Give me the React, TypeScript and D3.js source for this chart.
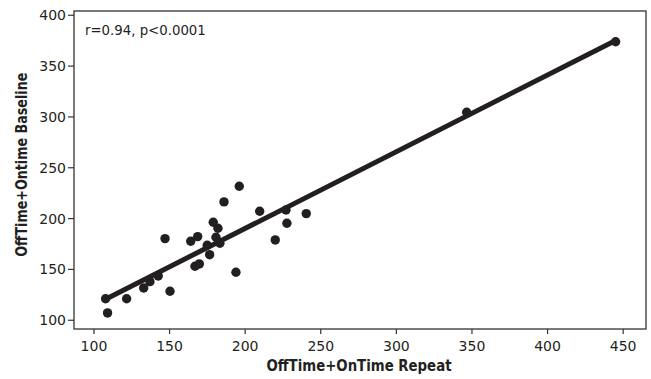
import React from "react";
import * as d3 from "d3";

const repeatValues = [107.7, 109.0, 121.6, 132.9, 137.0, 142.5, 147.0, 150.3, 164.0, 168.6, 166.8, 169.7, 174.9, 176.5, 178.9, 182.0, 180.7, 183.3, 186.0, 193.9, 196.1, 209.6, 219.9, 227.0, 227.6, 240.4, 346.5, 445.0];
const baselineValues = [121.2, 107.2, 121.2, 131.8, 138.0, 143.6, 180.3, 128.5, 177.7, 182.3, 153.1, 155.4, 173.8, 164.5, 196.4, 190.5, 181.6, 175.7, 216.4, 147.2, 231.8, 207.2, 179.0, 208.5, 195.4, 204.9, 304.6, 374.0];
const xTicks = [100, 150, 200, 250, 300, 350, 400, 450];
const yTicks = [100, 150, 200, 250, 300, 350, 400];
const annotation = "r=0.94, p<0.0001";
const xTitle = "OffTime+OnTime Repeat";
const yTitle = "OffTime+Ontime Baseline";

export default function App() {
  const W = 651, H = 379;
  const left = 74, right = 646, top = 11, bottom = 329;
  const x = d3.scaleLinear().domain([86.8, 465.1]).range([left, right]);
  const y = d3.scaleLinear().domain([91.4, 404.2]).range([bottom, top]);
  const pts = repeatValues.map((v, i) => [v, baselineValues[i]] as [number, number]);
  const mx = d3.mean(repeatValues)!, my = d3.mean(baselineValues)!;
  let sxy = 0, sxx = 0;
  pts.forEach(([a, b]) => { sxy += (a - mx) * (b - my); sxx += (a - mx) * (a - mx); });
  const slope = sxy / sxx, icpt = my - slope * mx;
  const x0 = d3.min(repeatValues)!, x1 = d3.max(repeatValues)!;
  const line = d3.line<number>().x(d => x(d)).y(d => y(icpt + slope * d));
  const font = "'DejaVu Sans', Verdana, sans-serif";
  const col = "#231f20";
  return (
    <svg width={W} height={H} style={{ position: "absolute", left: 0, top: 0, background: "#fff" }}>
      <rect x={left} y={top} width={right - left} height={bottom - top} fill="none" stroke="#333" strokeWidth={1.3} />
      {xTicks.map(t => (
        <g key={"x" + t}>
          <line x1={x(t)} x2={x(t)} y1={bottom} y2={bottom + 5} stroke="#333" strokeWidth={1.2} />
          <text x={x(t)} y={350.5} textAnchor="middle" fontFamily={font} fontSize={14} fill={col}>{t}</text>
        </g>
      ))}
      {yTicks.map(t => (
        <g key={"y" + t}>
          <line x1={left - 6} x2={left} y1={y(t)} y2={y(t)} stroke="#333" strokeWidth={1.2} />
          <text x={66} y={y(t) + 5} textAnchor="end" fontFamily={font} fontSize={14} fill={col}>{t}</text>
        </g>
      ))}
      <path d={line([x0, x1])!} stroke={col} strokeWidth={5} fill="none" />
      {pts.map(([a, b], i) => (
        <circle key={i} cx={x(a)} cy={y(b)} r={4.7} fill={col} />
      ))}
      <text x={85} y={35} fontFamily={font} fontSize={13.3} fill={col}>{annotation}</text>
      <text x={359} y={371} textAnchor="middle" fontFamily={font} fontWeight="bold" fontSize={15} fill={col} textLength={185} lengthAdjust="spacingAndGlyphs">{xTitle}</text>
      <text transform={`translate(26.5,164.7) rotate(-90)`} textAnchor="middle" fontFamily={font} fontWeight="bold" fontSize={15} fill={col} textLength={184} lengthAdjust="spacingAndGlyphs">{yTitle}</text>
    </svg>
  );
}
